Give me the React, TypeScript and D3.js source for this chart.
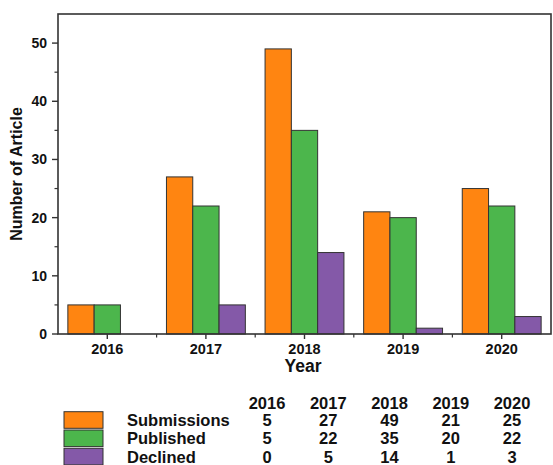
import React from 'react';
import * as d3 from 'd3';

const years = ['2016', '2017', '2018', '2019', '2020'];
const seriesNames = ['Submissions', 'Published', 'Declined'];
const submissions = [5, 27, 49, 21, 25];
const published = [5, 22, 35, 20, 22];
const declined = [0, 5, 14, 1, 3];
const seriesColors = ['#ff8511', '#4cb64c', '#8459a8'];
const yTicks = [0, 10, 20, 30, 40, 50];
const yMinorTicks = [5, 15, 25, 35, 45];

const seriesValues = [submissions, published, declined];

const W = 553;
const H = 465;
const font = '"Liberation Sans", Arial, sans-serif';

export default function App() {
  const left = 58;
  const right = 551;
  const top = 14;
  const bottom = 334;

  const x = d3.scaleBand<string>().domain(years).range([left, right]).padding(0);
  const bw = x.bandwidth();
  const xInner = d3
    .scaleBand<string>()
    .domain(seriesNames)
    .range([bw * 0.1, bw * 0.9])
    .padding(0);
  const y = d3.scaleLinear().domain([0, 55]).range([bottom, top]);

  // table layout
  const col = d3.scalePoint<string>().domain(years).range([267, 512]);
  const row = d3.scaleLinear().domain([0, 1]).range([420, 438.3]);

  const stroke = '#333';

  return (
    <div>
      <style>{`body{margin:0}`}</style>
      <svg width={W} height={H} style={{ display: 'block', background: '#fff' }} fontFamily={font} fontWeight="bold">
        {/* bars */}
        {years.map((yr, i) => (
          <g key={yr} transform={`translate(${x(yr)},0)`}>
            {seriesNames.map((s, j) => {
              const v = seriesValues[j][i];
              if (v <= 0) return null;
              return (
                <rect
                  key={s}
                  x={xInner(s)}
                  y={y(v)}
                  width={xInner.bandwidth()}
                  height={y(0) - y(v)}
                  fill={seriesColors[j]}
                  stroke={stroke}
                  strokeWidth={1}
                />
              );
            })}
          </g>
        ))}

        {/* frame */}
        <rect x={left} y={top} width={right - left} height={bottom - top} fill="none" stroke={stroke} strokeWidth={1.6} />

        {/* y axis ticks */}
        {yTicks.map((t) => (
          <g key={t}>
            <line x1={left - 6} x2={left} y1={y(t)} y2={y(t)} stroke={stroke} strokeWidth={1.4} />
            <text x={left - 11} y={y(t)} dy="0.35em" textAnchor="end" fontSize={14} fill="#111">
              {t}
            </text>
          </g>
        ))}
        {yMinorTicks.map((t) => (
          <line key={t} x1={left - 3.5} x2={left} y1={y(t)} y2={y(t)} stroke={stroke} strokeWidth={1.2} />
        ))}

        {/* x axis ticks */}
        {years.map((yr) => {
          const cx = (x(yr) as number) + bw / 2;
          return (
            <g key={yr}>
              <line x1={cx} x2={cx} y1={bottom} y2={bottom + 5} stroke={stroke} strokeWidth={1.4} />
              <text x={cx} y={bottom + 20} textAnchor="middle" fontSize={14.5} fill="#111">
                {yr}
              </text>
            </g>
          );
        })}
        {years.slice(1).map((yr) => (
          <line key={yr} x1={x(yr)} x2={x(yr)} y1={bottom} y2={bottom + 3.5} stroke={stroke} strokeWidth={1.2} />
        ))}

        {/* axis titles */}
        <text x={303} y={372} textAnchor="middle" fontSize={17.5} fill="#111">
          Year
        </text>
        <text
          transform={`translate(22,${(top + bottom) / 2}) rotate(-90)`}
          textAnchor="middle"
          fontSize={16}
          fill="#111"
        >
          Number of Article
        </text>

        {/* data table */}
        {years.map((yr) => (
          <text key={yr} x={col(yr)} y={403} dy="0.36em" textAnchor="middle" fontSize={16.5} fill="#111">
            {yr}
          </text>
        ))}
        {seriesNames.map((s, j) => (
          <g key={s}>
            <rect x={64} y={row(j) - 8.3} width={39} height={16.6} fill={seriesColors[j]} stroke={stroke} strokeWidth={1} />
            <text x={127} y={row(j)} dy="0.36em" fontSize={16.5} fill="#111">
              {s}
            </text>
            {years.map((yr, i) => (
              <text key={yr} x={col(yr)} y={row(j)} dy="0.36em" textAnchor="middle" fontSize={16.5} fill="#111">
                {seriesValues[j][i]}
              </text>
            ))}
          </g>
        ))}
      </svg>
    </div>
  );
}
